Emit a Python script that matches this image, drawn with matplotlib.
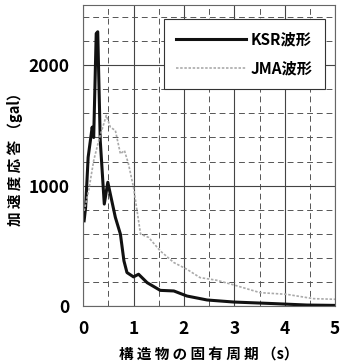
import matplotlib.pyplot as plt
from matplotlib.ticker import MultipleLocator

plt.rcParams['font.family'] = ['Liberation Sans Narrow', 'Noto Sans CJK JP', 'DejaVu Sans']

# KSR wave response spectrum (period s, acceleration gal)
ksr_t = [0.02, 0.05, 0.10, 0.18, 0.21, 0.26, 0.29, 0.34, 0.42, 0.49, 0.54, 0.64, 0.74,
         0.81, 0.87, 1.00, 1.10, 1.27, 1.53, 1.80, 2.06, 2.46, 2.99, 3.78, 4.44, 5.00]
ksr_a = [708, 820, 1236, 1486, 1400, 2264, 2278, 1375, 847, 1028, 930, 736, 597,
         375, 278, 242, 264, 194, 130, 125, 83, 50, 33, 20, 8, 5]

# JMA wave response spectrum
jma_t = [0.02, 0.11, 0.21, 0.31, 0.46, 0.54, 0.64, 0.74, 0.82, 0.90, 1.00, 1.14, 1.30,
         1.53, 1.80, 2.06, 2.32, 2.65, 2.99, 3.51, 4.04, 4.57, 5.00]
jma_a = [790, 958, 1208, 1375, 1583, 1486, 1458, 1264, 1292, 1180, 986, 597, 570,
         458, 361, 305, 236, 214, 175, 111, 97, 61, 56]

fig = plt.figure(figsize=(3.42, 3.63), dpi=100)
ax = fig.add_axes([0.243, 0.157, 0.737, 0.829])

ax.plot(ksr_t, ksr_a, color='#111111', lw=2.2, label='KSR波形')
ax.plot(jma_t, jma_a, color='#aaaaaa', lw=1.2, ls=(0, (1.5, 1)), label='JMA波形')

ax.set_xlim(0, 5)
ax.set_ylim(0, 2500)
ax.xaxis.set_major_locator(MultipleLocator(1))
ax.xaxis.set_minor_locator(MultipleLocator(0.5))
ax.yaxis.set_major_locator(MultipleLocator(1000))
ax.yaxis.set_minor_locator(MultipleLocator(200))
ax.grid(which='major', color='#444444', lw=0.8, ls='-')
ax.grid(which='minor', color='#555555', lw=0.7, ls=(0, (6, 4)))
ax.set_axisbelow(True)
ax.tick_params(which='both', length=0, labelsize=12.5, pad=10)
for lbl in ax.get_xticklabels() + ax.get_yticklabels():
    lbl.set_fontweight('bold')
for s in ax.spines.values():
    s.set_color('#666666')
    s.set_linewidth(0.8)

ax.set_xlabel('構 造 物 の 固 有 周 期 （s）', fontsize=10.5, fontweight='bold', labelpad=6)
ax.set_ylabel('加 速 度 応 答 （gal）', fontsize=10.5, fontweight='bold', labelpad=4)

leg = ax.legend(loc='upper right', fontsize=11, handlelength=4.6, handletextpad=0.3,
                fancybox=False, framealpha=1, edgecolor='#333333', borderpad=0.8,
                labelspacing=0.9, bbox_to_anchor=(0.99, 0.98))
leg.get_frame().set_linewidth(0.8)
for t in leg.get_texts():
    t.set_fontweight('bold')

fig.savefig('out.png', dpi=100)
